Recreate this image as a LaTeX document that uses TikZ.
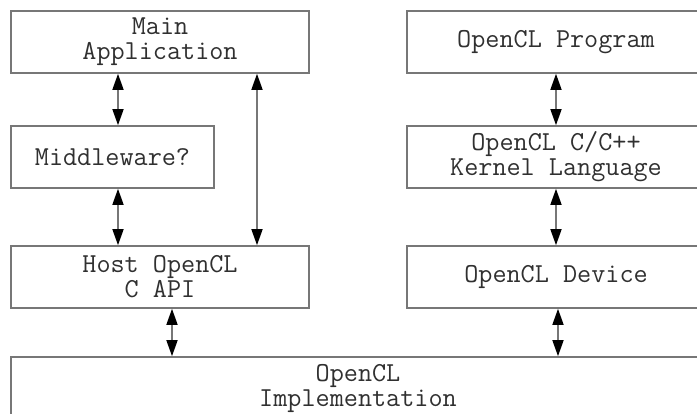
\documentclass[tikz,border=0pt]{standalone}
\usetikzlibrary{arrows.meta}
\definecolor{edgegray}{HTML}{777777}
\definecolor{inkgray}{HTML}{303030}
\tikzset{
  layer/.style={draw=edgegray, line width=1.6pt, fill=white, rectangle,
    inner sep=0pt, align=center, text=inkgray,
    font=\ttfamily\fontsize{27.4}{25}\selectfont},
  link/.style={draw=edgegray, line width=1.5pt,
    {Triangle[length=16pt,width=11pt,fill=black,color=black]}-{Triangle[length=16pt,width=11pt,fill=black,color=black]}}
}
\begin{document}
\begin{tikzpicture}[x=1pt, y=-1pt]
  \useasboundingbox (0,0) rectangle (697,414);
  \clip (0,0) rectangle (697,414);

  % host side stack
  \node[layer, minimum width=298pt, minimum height=62pt] (main) at (160,42) {Main\\Application};
  \node[layer, minimum width=203pt, minimum height=62pt] (mid) at (112.5,157) {Middleware?};
  \node[layer, minimum width=298pt, minimum height=62pt] (host) at (160,277) {Host OpenCL\\C API};

  % device side stack
  \node[layer, minimum width=298pt, minimum height=62pt] (prog) at (556,42) {OpenCL Program};
  \node[layer, minimum width=298pt, minimum height=62pt] (kern) at (556,157) {OpenCL C/C++\\Kernel Language};
  \node[layer, minimum width=298pt, minimum height=62pt] (dev) at (556,277) {OpenCL Device};

  % shared implementation layer
  \node[layer, minimum width=694pt, minimum height=64pt] (impl) at (358,389) {OpenCL\\Implementation};

  % connector columns
  \coordinate (xa) at (118,0);
  \coordinate (xb) at (257,0);
  \coordinate (xc) at (172,0);
  \coordinate (xd) at (556,0);
  \coordinate (xe) at (558,0);

  \draw[link] (main.south -| xa) -- (mid.north -| xa);
  \draw[link] (mid.south -| xa) -- (host.north -| xa);
  \draw[link] (main.south -| xb) -- (host.north -| xb);
  \draw[link] (host.south -| xc) -- (impl.north -| xc);
  \draw[link] (prog.south -| xd) -- (kern.north -| xd);
  \draw[link] (kern.south -| xd) -- (dev.north -| xd);
  \draw[link] (dev.south -| xe) -- (impl.north -| xe);
\end{tikzpicture}
\end{document}
